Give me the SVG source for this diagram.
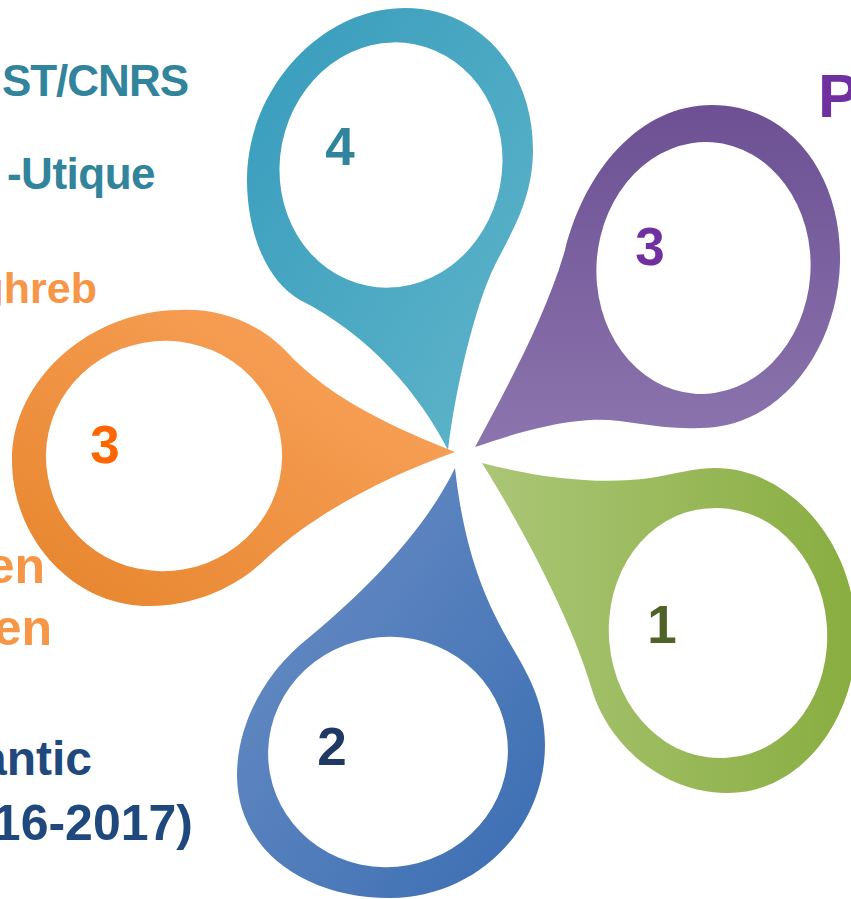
<svg xmlns="http://www.w3.org/2000/svg" width="851" height="899" viewBox="0 0 851 899">
<style>
text{font-family:"Liberation Sans",Arial,sans-serif;font-weight:bold}
.num{font-size:53px;text-anchor:middle}
.ring{fill-rule:evenodd}
</style>
<defs>
<linearGradient id="gTeal" x1="0" y1="0" x2="1" y2="1"><stop offset="0" stop-color="#379CBC"/><stop offset="1" stop-color="#60B5CA"/></linearGradient>
<linearGradient id="gPurple" x1="0" y1="0" x2="0" y2="1"><stop offset="0" stop-color="#6C5093"/><stop offset="1" stop-color="#8C75AE"/></linearGradient>
<linearGradient id="gGreen" x1="0" y1="0" x2="1" y2="0"><stop offset="0" stop-color="#ABC677"/><stop offset="1" stop-color="#89AD40"/></linearGradient>
<linearGradient id="gBlue" x1="0" y1="0" x2="1" y2="1"><stop offset="0" stop-color="#6D90C6"/><stop offset="1" stop-color="#3A6DB2"/></linearGradient>
<linearGradient id="gOrange" x1="1" y1="0" x2="0" y2="1"><stop offset="0" stop-color="#FBA660"/><stop offset="1" stop-color="#E6842C"/></linearGradient>
</defs>

<g id="labels">
<text x="188" y="96" font-size="44" fill="#31849B" text-anchor="end" letter-spacing="-1">ST/CNRS</text>
<text x="155" y="189" font-size="44" fill="#31849B" text-anchor="end" letter-spacing="-0.5">-Utique</text>
<text x="97" y="303" font-size="43" fill="#F79646" text-anchor="end">ghreb</text>
<text x="45" y="583" font-size="50" fill="#F79646" text-anchor="end">en</text>
<text x="52" y="645" font-size="50" fill="#F79646" text-anchor="end">en</text>
<text x="92" y="775" font-size="48" fill="#1F497D" text-anchor="end">antic</text>
<text x="193" y="840" font-size="50" fill="#1F497D" text-anchor="end">16-2017)</text>
<text x="818" y="117" font-size="62" fill="#7030A0">P</text>
</g>

<g id="petal4">
<path class="ring" fill="url(#gTeal)" d="M448,450 C420,395 370,335 300,300 C265,280 247,230 247,180 C247,90 320,8 405,8 C480,8 533,70 533,150 C533,200 510,235 495,265 C475,305 455,390 448,450 Z M414.5,44.2 A111,123 11 1 1 367.5,285.8 A111,123 11 1 1 414.5,44.2 Z"/>
<text class="num" x="340" y="165" fill="#31849B" font-size="58">4</text>
</g>

<g id="petal3-purple">
<path class="ring" fill="url(#gPurple)" d="M475,447 C500,400 545,320 565,250 C585,170 640,105 712,105 C790,105 842,175 840,262 C838,350 780,428 700,428 C655,430 625,418 590,420 C545,423 505,437 475,447 Z M712.3,142.3 A107,126 4 1 1 694.7,393.7 A107,126 4 1 1 712.3,142.3 Z"/>
<text class="num" x="650" y="265" fill="#7030A0">3</text>
</g>

<g id="petal1">
<path class="ring" fill="url(#gGreen)" d="M482,463 C540,478 600,485 650,478 C675,474 695,468 715,468 C790,468 858,545 856,640 C855,720 800,795 725,793 C665,792 610,748 592,690 C575,630 530,540 482,463 Z M707.1,508.5 A107,125 -5 1 1 728.9,757.5 A107,125 -5 1 1 707.1,508.5 Z"/>
<text class="num" x="662" y="643" fill="#4F6228">1</text>
</g>

<g id="petal2">
<path class="ring" fill="url(#gBlue)" d="M455,468 C430,520 380,580 300,645 C255,685 237,735 237,775 C237,850 305,898 390,898 C475,898 545,830 545,745 C545,705 530,678 515,652 C490,610 465,560 455,468 Z M269.8,772.8 A120,115 -10 1 1 506.2,731.2 A120,115 -10 1 1 269.8,772.8 Z"/>
<text class="num" x="332" y="765" fill="#1F3864">2</text>
</g>

<g id="petal3-orange">
<path class="ring" fill="url(#gOrange)" d="M455,452 C400,430 330,400 285,350 C255,320 215,308 180,310 C90,310 12,380 12,460 C12,540 75,607 150,606 C200,605 240,585 270,555 C320,510 390,475 455,452 Z M47.8,476.5 A118,114 -10 1 1 280.2,435.5 A118,114 -10 1 1 47.8,476.5 Z"/>
<text class="num" x="105" y="463" fill="#FF6600">3</text>
</g>

<g id="connectors"></g>
</svg>
